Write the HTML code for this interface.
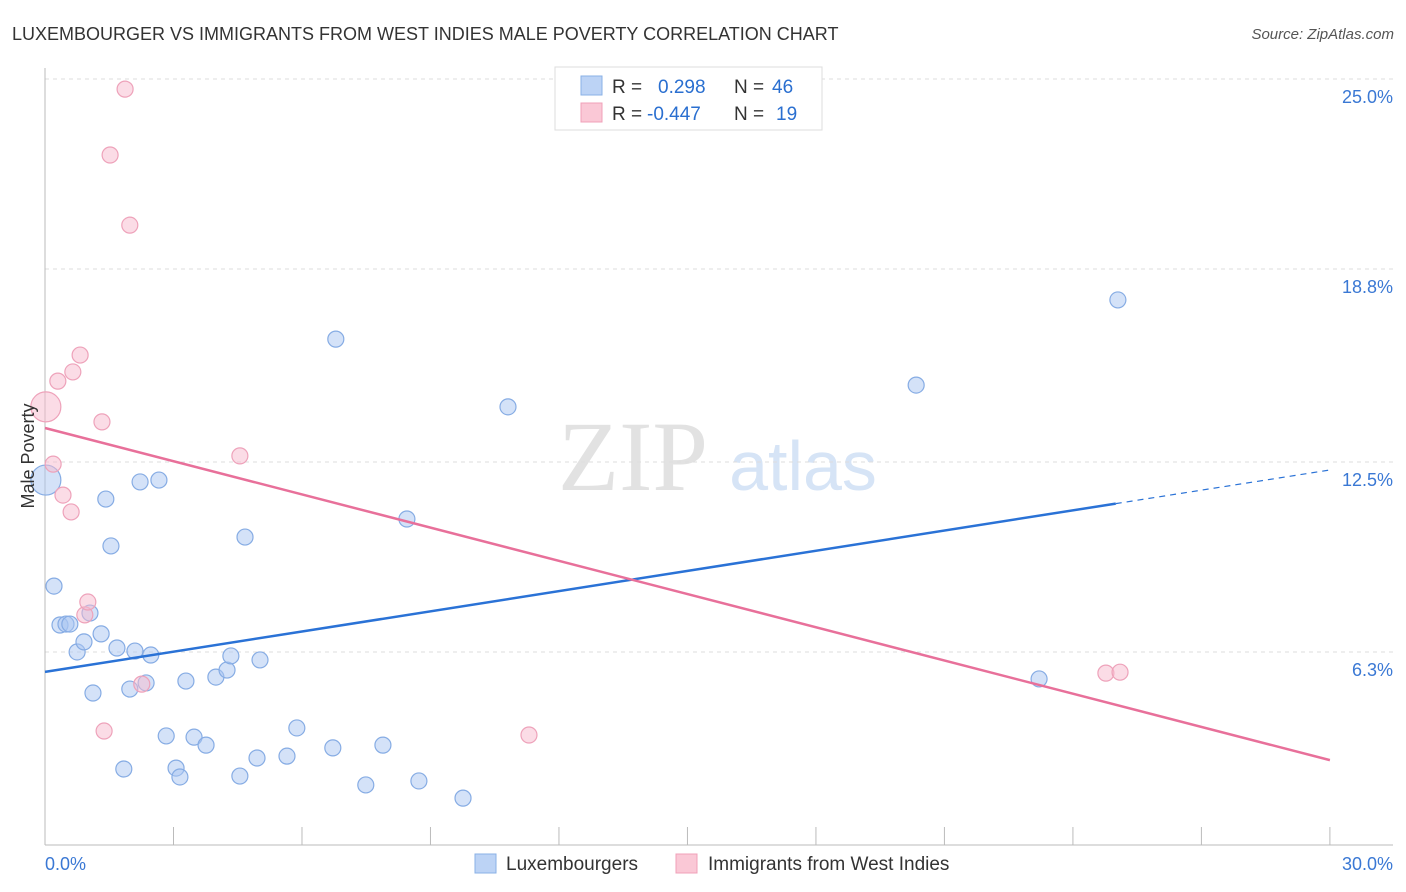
<!DOCTYPE html>
<html><head><meta charset="utf-8"><style>
body{margin:0;background:#fff;font-family:"Liberation Sans",sans-serif}
svg{display:block}
</style></head><body>
<svg id="chart" width="1406" height="892">
<text x="12" y="40" font-size="18" fill="#333">LUXEMBOURGER VS IMMIGRANTS FROM WEST INDIES MALE POVERTY CORRELATION CHART</text>
<text x="1394" y="39" font-size="15" fill="#555" font-style="italic" text-anchor="end">Source: ZipAtlas.com</text>
<g>
<text x="633" y="490" font-size="100" font-family="Liberation Serif,serif" fill="#e2e2e2" text-anchor="middle">ZIP</text>
<text x="803" y="490" font-size="70" fill="#d6e4f6" text-anchor="middle">atlas</text>
</g>
<g id="grid"></g>
<g id="axes"></g>
<g id="marks"></g>
<text transform="translate(34,456) rotate(-90)" font-size="18" fill="#333" text-anchor="middle">Male Poverty</text>
<text x="45" y="870" font-size="18" fill="#3a78d4">0.0%</text>
<text x="1393" y="870" font-size="18" fill="#3a78d4" text-anchor="end">30.0%</text>
<g>
<rect x="555" y="67" width="267" height="63" fill="#fff" stroke="#ddd"/>
<rect x="581" y="76" width="21" height="19" fill="#bcd3f5" stroke="#8ab0e6"/>
<rect x="581" y="103" width="21" height="19" fill="#fac8d6" stroke="#f0a0b8"/>
<text x="612" y="93" font-size="19" fill="#333">R = <tspan fill="#2a6fd0" x="658">0.298</tspan><tspan x="734">N = </tspan><tspan fill="#2a6fd0" x="772">46</tspan></text>
<text x="612" y="120" font-size="19" fill="#333">R = <tspan fill="#2a6fd0" x="647">-0.447</tspan><tspan x="734">N = </tspan><tspan fill="#2a6fd0" x="776">19</tspan></text>
</g>
<g>
<rect x="475" y="854" width="21" height="19" fill="#bcd3f5" stroke="#8ab0e6"/>
<text x="506" y="870" font-size="19" fill="#333">Luxembourgers</text>
<rect x="676" y="854" width="21" height="19" fill="#fac8d6" stroke="#f0a0b8"/>
<text x="708" y="870" font-size="19" fill="#333">Immigrants from West Indies</text>
</g>
</svg>
<script>
const yTicks=[25.0,18.8,12.5,6.3];
const yTickLabels=["25.0%","18.8%","12.5%","6.3%"];
const xTicks=[0,3,6,9,12,15,18,21,24,27,30];
const luxX=[0.02,0.21,0.35,0.49,0.58,0.75,0.91,1.05,1.12,1.31,1.42,1.54,1.68,1.84,1.98,2.10,2.22,2.36,2.47,2.66,2.83,3.06,3.15,3.29,3.48,3.76,3.99,4.25,4.34,4.55,4.67,4.95,5.02,5.65,5.88,6.72,6.79,7.49,7.89,8.45,8.73,9.76,10.81,20.34,23.21,25.05];
const luxY=[11.91,8.45,7.18,7.21,7.21,6.30,6.63,7.57,4.96,6.89,11.29,9.76,6.43,2.48,5.09,6.33,11.85,5.29,6.20,11.91,3.56,2.51,2.22,5.35,3.52,3.26,5.48,5.71,6.17,2.25,10.05,2.84,6.04,2.90,3.82,3.17,16.51,1.96,3.26,10.64,2.09,1.53,14.30,15.01,5.42,17.79];
const luxBig=[0];
const wiX=[0.02,0.19,0.30,0.42,0.61,0.65,0.82,0.93,1.00,1.33,1.38,1.52,1.87,1.98,2.26,4.55,11.30,24.77,25.10];
const wiY=[14.30,12.43,15.14,11.42,10.87,15.44,15.99,7.51,7.93,13.81,3.72,22.52,24.67,20.23,5.25,12.70,3.59,5.61,5.64];
const wiBig=[0];
const luxTrend=[5.65,12.24]; // at x=0 and x=30
const luxSolidEnd=25.0;
const wiTrend=[13.61,2.77];

const X=v=>45+v*42.83, Y=v=>845-v*30.64;
const NS="http://www.w3.org/2000/svg";
function mk(tag,attrs,parent){const e=document.createElementNS(NS,tag);for(const k in attrs)e.setAttribute(k,attrs[k]);document.getElementById(parent).appendChild(e);return e;}
yTicks.forEach((t,i)=>{
 const g=mk('line',{x1:45,x2:1393,y1:Y(t),y2:Y(t),stroke:'#ddd','stroke-dasharray':'4,4'},'grid');
 
 
 const l=mk('text',{x:1393,y:Y(t)+24,'font-size':18,fill:'#3a78d4','text-anchor':'end'},'grid');
 l.textContent=yTickLabels[i];
 
 
});
const ya=mk('line',{x1:45,x2:45,y1:68,y2:845,stroke:'#bbb'},'axes');


const xa=mk('line',{x1:45,x2:1393,y1:845,y2:845,stroke:'#bbb'},'axes');


xTicks.forEach(t=>{
 const k=mk('line',{x1:X(t),x2:X(t),y1:827,y2:845,stroke:'#bbb'},'axes');
 
 
});
function dots(xs,ys,big,fill,stroke,name){
 xs.forEach((x,i)=>{
  const c=mk('circle',{cx:X(x),cy:Y(ys[i]),r:big.includes(i)?15:8,fill:fill,stroke:stroke,'stroke-width':1.2},'marks');
  
  
 });
}
dots(luxX,luxY,luxBig,'rgba(170,198,242,0.5)','#86ace4','luxembourger-point');
dots(wiX,wiY,wiBig,'rgba(248,185,205,0.5)','#eea2ba','west-indies-point');
const ly=x=>luxTrend[0]+(luxTrend[1]-luxTrend[0])*x/30;
const l1=mk('line',{x1:X(0),y1:Y(ly(0)),x2:X(luxSolidEnd),y2:Y(ly(luxSolidEnd)),stroke:'#2a72d6','stroke-width':2.5},'marks');


const l2=mk('line',{x1:X(luxSolidEnd),y1:Y(ly(luxSolidEnd)),x2:X(30),y2:Y(ly(30)),stroke:'#2a72d6','stroke-width':1.2,'stroke-dasharray':'6,5'},'marks');


const l3=mk('line',{x1:X(0),y1:Y(wiTrend[0]),x2:X(30),y2:Y(wiTrend[1]),stroke:'#e8709a','stroke-width':2.5},'marks');


</script>
</body></html>
